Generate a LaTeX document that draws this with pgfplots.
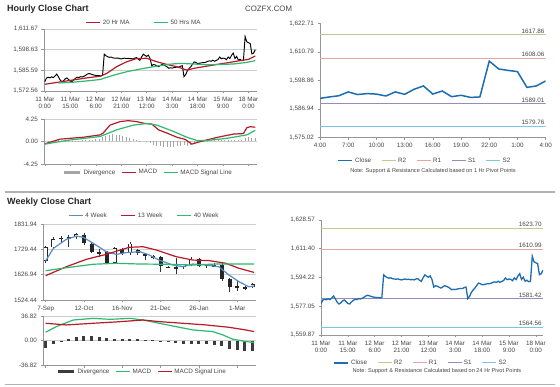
\documentclass[border=0pt]{standalone}
\usepackage{pgfplots}
\pgfplotsset{compat=1.18}
\usepackage{pgfplotstable}
\usepackage{fontspec}
\setmainfont{Liberation Sans}

\definecolor{closeblue}{RGB}{30,108,178}
\definecolor{rtwo}{RGB}{200,200,140}
\definecolor{rone}{RGB}{228,165,165}
\definecolor{sone}{RGB}{150,140,185}
\definecolor{stwo}{RGB}{120,200,225}
\definecolor{mared}{RGB}{185,25,40}
\definecolor{magreen}{RGB}{45,185,110}
\definecolor{wkblue}{RGB}{90,140,200}
\definecolor{gridgray}{RGB}{205,205,205}
\definecolor{axgray}{RGB}{150,150,150}
\definecolor{txt}{RGB}{70,70,70}
\definecolor{divgray}{RGB}{165,165,165}
\definecolor{divdark}{RGB}{60,60,60}

% hourly close (trading-hour index, 11 Mar 0:00 = 0)
\pgfplotstableread{
h c
0 1578.5
1 1580.8
2 1581.2
3 1580.9
4 1581.5
5 1581.0
6 1582.0
7 1583.2
8 1581.5
9 1579.5
10 1578.4
11 1579.0
12 1580.2
13 1580.8
14 1579.8
15 1578.7
16 1578.4
17 1579.6
18 1580.5
19 1581.3
20 1581.0
21 1581.6
22 1581.4
23 1581.8
24 1582.4
25 1583.2
26 1583.6
27 1583.3
28 1582.9
29 1582.6
30 1582.4
31 1582.2
32 1582.3
33 1582.0
34 1582.4
35 1595.8
36 1594.8
37 1594.2
38 1593.8
39 1594.0
40 1593.5
41 1593.3
42 1593.2
43 1593.4
44 1593.0
45 1592.8
46 1593.1
47 1593.3
48 1593.0
49 1593.2
50 1592.9
51 1593.0
52 1592.8
53 1593.3
54 1593.6
55 1592.6
56 1591.9
57 1594.0
58 1595.8
59 1595.0
60 1594.4
61 1595.2
62 1593.0
63 1588.5
64 1589.3
65 1589.0
66 1588.4
67 1587.9
68 1588.6
69 1589.3
70 1589.0
71 1588.5
72 1587.8
73 1586.9
74 1587.2
75 1587.0
76 1587.3
77 1587.5
78 1587.7
79 1587.6
80 1588.2
81 1588.5
82 1581.6
83 1583.0
84 1585.4
85 1586.8
86 1587.9
87 1589.5
88 1590.9
89 1590.5
90 1589.9
91 1590.0
92 1590.3
93 1590.5
94 1590.5
95 1590.8
96 1591.3
97 1591.6
98 1591.3
99 1592.0
100 1591.3
101 1591.9
102 1592.4
103 1594.0
104 1592.9
105 1593.3
106 1593.1
107 1592.3
108 1594.0
109 1593.0
110 1595.1
111 1596.5
112 1593.1
113 1594.4
114 1592.0
115 1592.6
116 1591.7
117 1591.9
118 1606.9
119 1603.6
120 1603.0
121 1602.5
122 1595.9
123 1596.5
124 1598.6
}\hourly

\pgfplotstableread{
h v
0 1576.8
12.8 1578.9
24.6 1580.8
32.5 1581.9
36.4 1583.6
42.3 1587.9
48.2 1591.0
54 1593.0
60 1593.2
66 1591.0
71.9 1589.3
77.8 1587.9
83.7 1585.7
87.6 1586.8
93.5 1587.9
101.4 1589.3
109 1590.6
115 1591.7
120 1592.5
124 1594.7
}\matwenty

\pgfplotstableread{
h v
7.9 1577.6
16.7 1578.1
24.6 1578.9
32.5 1579.8
40.4 1582.5
48.2 1584.7
56.1 1586.4
64 1587.9
71.9 1589.3
79.7 1590.0
87.6 1589.6
95.5 1589.1
103.3 1589.3
111.2 1589.6
119 1590.6
124 1591.7
}\mafifty

\pgfplotstableread{
h v
0 -0.44
8.9 0.44
22.6 0.8
32.5 1.25
34.4 1.6
38.4 3.1
44.3 3.75
49.2 3.94
54.1 3.75
59 3.4
63 3.3
67 2.2
71.9 1.6
77.8 0.8
82.7 0.4
86.6 -0.5
89.6 -0.2
95.5 0.3
103.3 0.9
111.2 1.4
117 1.5
119 2.6
121 2.8
124 2.7
}\hmacd

\pgfplotstableread{
h v
0 -0.5
12.8 0.2
32.5 0.94
42.3 2.2
52.2 3.1
60 3.4
66 3.1
75.8 1.9
83.7 0.8
89.6 0.2
95.5 0.2
107.3 0.6
119 1.25
124 2.1
}\hsignal

\pgfplotstableread{
h v
0 0
2 0.05
4 0.1
6 0.15
8 0.2
10 0.15
12 0.1
14 0.05
16 0.05
18 0.1
20 0.15
22 0.2
24 0.25
26 0.3
28 0.35
30 0.4
32 0.5
34 0.8
36 1.1
38 1.3
40 1.4
42 1.3
44 1.2
46 1.0
48 0.8
50 0.6
52 0.4
54 0.25
56 0.1
58 0
60 -0.1
62 -0.3
64 -0.6
66 -0.8
68 -0.9
70 -1.0
72 -1.1
74 -1.1
76 -1.0
78 -0.9
80 -0.8
82 -0.7
84 -0.8
86 -0.6
88 -0.3
90 -0.1
92 0.05
94 0.1
96 0.15
98 0.2
100 0.25
102 0.3
104 0.3
106 0.35
108 0.35
110 0.3
112 0.3
114 0.25
116 0.2
118 0.6
120 0.8
122 0.7
124 0.6
}\hdiv

% weekly candles: week open high low close
\pgfplotstableread{
w o h l c
0 1684 1742 1676 1737
1 1737 1778 1730 1772
2 1772 1784 1754 1775
3 1775 1788 1738 1778
4 1778 1795 1770 1791
5 1787 1795 1748 1756
6 1751 1758 1716 1720
7 1720 1730 1700 1709
8 1720 1724 1672 1675
9 1673 1738 1670 1733
10 1729 1736 1708 1713
11 1713 1758 1705 1753
12 1726 1731 1708 1713
13 1712 1716 1686 1702
14 1703 1708 1690 1697
15 1698 1703 1636 1660
16 1657 1660 1652 1655
17 1656 1693 1628 1654
18 1657 1672 1648 1668
19 1666 1700 1660 1688
20 1689 1693 1658 1660
21 1663 1672 1655 1666
22 1665 1674 1658 1662
23 1668 1679 1600 1610
24 1611 1615 1556 1577
25 1580 1604 1562 1573
26 1572 1581 1565 1576
27 1577 1594 1572 1589
}\weekly

\pgfplotstableread{
w v
0 1683
1.0 1733
2.7 1770
4.0 1783
4.9 1778
6.2 1754
7.9 1720
9.2 1709
10.5 1716
12.3 1720
13.5 1707
14.8 1686
16.6 1666
17.9 1659
19.2 1670
20.9 1666
22.6 1659
23.9 1626
25.2 1599
26.5 1578
27.2 1581
}\wkfour

\pgfplotstableread{
w v
0 1623
2.7 1659
5.3 1689
7.9 1709
10.9 1737.5
12.7 1740
14.4 1727
17 1700
19.2 1686
21.3 1684
23.5 1673
25.2 1653
27.2 1636
}\wkthirteen

\pgfplotstableread{
w v
0 1643
2.7 1655
6.2 1669
9.2 1673
12.3 1670
15.7 1669
19.2 1666
22.2 1670
24.4 1670
27.2 1670
}\wkforty

\pgfplotstableread{
w v
0 12.4
1.4 20.9
3.6 30.8
6.2 33.3
8.4 31.8
11 33.3
12.7 30.8
14.8 25.9
17 20.9
19.2 15.9
21.8 13.4
23.1 8.5
24.4 2
26.1 -1.5
27.2 -3
}\wmacd

\pgfplotstableread{
w v
0 25.9
2.7 23.4
6.2 25.9
9.2 27.9
12.7 30.8
14.8 28.4
17.9 25.9
20.9 23.4
23.9 19.9
26.1 15.9
27.2 13.4
}\wsignal

\pgfplotstableread{
w v
0 -11.4
1 -5
2 -1
3 2
4 5
5 7
6 7
7 5
8 4
9 3
10 2
11 3
12 2
13 1
14 0.5
15 -1
16 -3
17 -4
18 -5
19 -5
20 -6
21 -6
22 -7
23 -9
24 -12.5
25 -14
26 -16.5
27 -16.5
}\wdiv

\pgfplotsset{
  panel/.style={
    scale only axis, anchor=north west,
    axis x line*=bottom, axis y line*=left,
    axis line style={axgray, line width=0.6pt, -},
    tick style={axgray, line width=0.5pt},
    major tick length=2.5pt, tick align=outside,
    tick label style={font=\fontsize{6.3}{7.3}\selectfont, text=txt},
    xticklabel style={align=center},
    legend style={draw=none, fill=none, font=\fontsize{6.3}{7}\selectfont, text=txt,
      legend columns=-1, anchor=center, inner sep=0pt,
      /tikz/every even column/.append style={column sep=8pt}},
    legend image code/.code={\draw (0pt,0pt) -- (14pt,0pt);},
  },
  lgrid/.style={ymajorgrids, grid style={gridgray, line width=0.5pt}},
}

\begin{document}
\begin{tikzpicture}
\fill[white] (0,0) rectangle (560pt,386pt);
\useasboundingbox (0,0) rectangle (560pt,386pt);

% titles and separators
\node[anchor=west, inner sep=0pt, font=\fontsize{9}{10}\selectfont\bfseries, text=black!85] at (7pt,377pt) {Hourly Close Chart};
\node[anchor=west, inner sep=0pt, font=\fontsize{7.8}{9}\selectfont, text=txt] at (245pt,377pt) {COZFX.COM};
\node[anchor=west, inner sep=0pt, font=\fontsize{9}{10}\selectfont\bfseries, text=black!85] at (7pt,184pt) {Weekly Close Chart};
\draw[gray!60, line width=1.2pt] (5pt,194pt) -- (555pt,194pt);
\draw[gray!60, line width=1.2pt] (5pt,1.7pt) -- (555pt,1.7pt);
\node[font=\fontsize{5.6}{6.5}\selectfont, text=txt] at (433pt,215.3pt) {Note: Support \& Resistance Calculated based on 1 Hr Pivot Points};
\node[font=\fontsize{5.6}{6.5}\selectfont, text=txt] at (437pt,15pt) {Note: Support \& Resistance Calculated based on 24 Hr Pivot Points};

% ---------- Hourly close chart ----------
\begin{axis}[panel, lgrid, at={(44pt,357pt)}, width=213pt, height=62pt,
  xmin=-0.5, xmax=125, ymin=1572.56, ymax=1611.67,
  ytick={1572.56,1585.59,1598.63,1611.67},
  yticklabels={{1,572.56},{1,585.59},{1,598.63},{1,611.67}},
  xtick={0,15,...,120},
  xticklabels={{11 Mar\\0:00},{11 Mar\\15:00},{12 Mar\\6:00},{12 Mar\\21:00},{13 Mar\\12:00},{14 Mar\\3:00},{14 Mar\\18:00},{15 Mar\\9:00},{18 Mar\\0:00}},
  legend style={at={(0.47,1.1)}, /tikz/every even column/.append style={column sep=22pt}}]
\addplot[black, line width=0.95pt, forget plot] table[x=h, y=c] {\hourly};
\addplot[mared, line width=1.2pt] table[x=h, y=v] {\matwenty};
\addlegendentry{20 Hr MA}
\addplot[magreen, line width=1.2pt] table[x=h, y=v] {\mafifty};
\addlegendentry{50 Hrs MA}
\end{axis}

% ---------- Hourly MACD ----------
\begin{axis}[panel, lgrid, at={(44pt,267pt)}, width=213pt, height=45pt,
  xmin=-0.5, xmax=125, ymin=-4.25, ymax=4.25,
  ytick={-4.25,0,4.25}, yticklabels={-4.25,0.00,4.25},
  xtick={0,15,...,120}, xticklabels={},
  legend style={at={(0.49,-0.19)}, /tikz/every even column/.append style={column sep=4pt}}]
\addplot[ycomb, divgray, line width=0.9pt,
  legend image code/.code={\draw[line width=2.6pt] (0pt,0pt) -- (16pt,0pt);}] table[x=h, y=v] {\hdiv};
\addlegendentry{Divergence}
\addplot[mared, line width=1.2pt] table[x=h, y=v] {\hmacd};
\addlegendentry{MACD}
\addplot[magreen, line width=1.2pt] table[x=h, y=v] {\hsignal};
\addlegendentry{MACD Signal Line}
\end{axis}

% ---------- Hourly pivot chart (last 24 h) ----------
\begin{axis}[panel, at={(320pt,362.7pt)}, width=225.7pt, height=114pt,
  xmin=100, xmax=124, ymin=1575.02, ymax=1622.71,
  ytick={1575.02,1586.94,1598.86,1610.79,1622.71},
  yticklabels={{1,575.02},{1,586.94},{1,598.86},{1,610.79},{1,622.71}},
  xtick={100,103,...,124},
  xticklabels={4:00,7:00,10:00,13:00,16:00,19:00,22:00,1:00,4:00},
  legend style={at={(0.465,-0.205)}}]
\addlegendimage{closeblue, line width=1.5pt}\addlegendentry{Close}
\addlegendimage{rtwo, line width=0.9pt}\addlegendentry{R2}
\addlegendimage{rone, line width=0.9pt}\addlegendentry{R1}
\addlegendimage{sone, line width=0.9pt}\addlegendentry{S1}
\addlegendimage{stwo, line width=0.9pt}\addlegendentry{S2}
\addplot[rtwo, line width=0.9pt, forget plot] coordinates {(100,1617.86) (124,1617.86)};
\addplot[rone, line width=0.9pt, forget plot] coordinates {(100,1608.06) (124,1608.06)};
\addplot[sone, line width=0.9pt, forget plot] coordinates {(100,1589.01) (124,1589.01)};
\addplot[stwo, line width=0.9pt, forget plot] coordinates {(100,1579.76) (124,1579.76)};
\addplot[closeblue, line width=1.5pt, forget plot, restrict x to domain=100:124] table[x=h, y=c] {\hourly};
\node[anchor=south east, inner sep=1.2pt, font=\fontsize{6.3}{7}\selectfont, text=txt] at (axis cs:124,1617.86) {1617.86};
\node[anchor=south east, inner sep=1.2pt, font=\fontsize{6.3}{7}\selectfont, text=txt] at (axis cs:124,1608.06) {1608.06};
\node[anchor=south east, inner sep=1.2pt, font=\fontsize{6.3}{7}\selectfont, text=txt] at (axis cs:124,1589.01) {1589.01};
\node[anchor=south east, inner sep=1.2pt, font=\fontsize{6.3}{7}\selectfont, text=txt] at (axis cs:124,1579.76) {1579.76};
\end{axis}

% ---------- Weekly candle chart ----------
\begin{axis}[panel, lgrid, at={(43pt,162pt)}, width=213pt, height=76pt,
  xmin=-0.35, xmax=27.45, ymin=1524.44, ymax=1831.94,
  ytick={1524.44,1626.94,1729.44,1831.94},
  yticklabels={1524.44,1626.94,1729.44,1831.94},
  xtick={0,5,...,25},
  xticklabels={7-Sep,12-Oct,16-Nov,21-Dec,26-Jan,1-Mar},
  legend style={at={(0.476,1.11)}, /tikz/every even column/.append style={column sep=12pt}}]
% wicks
\addplot[draw=none, mark=none, forget plot,
  error bars/.cd, y dir=both, y explicit, error mark=none,
  error bar style={draw=black!80, line width=0.6pt, solid}]
  table[x=w, y expr={(\thisrow{h}+\thisrow{l})/2}, y error expr={(\thisrow{h}-\thisrow{l})/2}] {\weekly};
% bodies
\addplot[draw=none, mark=none, forget plot,
  error bars/.cd, y dir=both, y explicit, error mark=none,
  error bar style={draw=black!85, line width=4pt, solid}]
  table[x=w, y expr={(\thisrow{o}+\thisrow{c})/2}, y error expr={max(abs(\thisrow{c}-\thisrow{o})/2,1.6)}] {\weekly};
% hollow (up) bodies
\addplot[draw=none, mark=none, forget plot,
  error bars/.cd, y dir=both, y explicit, error mark=none,
  error bar style={draw=white, line width=2.5pt, solid}]
  table[x=w, y expr={(\thisrow{o}+\thisrow{c})/2}, y error expr={max((\thisrow{c}-\thisrow{o})/2-3.2,0)}] {\weekly};
\addplot[wkblue, line width=1.2pt] table[x=w, y=v] {\wkfour};
\addlegendentry{4 Week}
\addplot[mared, line width=1.2pt] table[x=w, y=v] {\wkthirteen};
\addlegendentry{13 Week}
\addplot[magreen, line width=1.2pt] table[x=w, y=v] {\wkforty};
\addlegendentry{40 Week}
\end{axis}

% ---------- Weekly MACD ----------
\begin{axis}[panel, lgrid, at={(43pt,70pt)}, width=213pt, height=49pt,
  xmin=-0.35, xmax=27.45, ymin=-36.82, ymax=36.82,
  ytick={-36.82,0,36.82}, yticklabels={-36.82,0.00,36.82},
  xtick={0,5,...,25}, xticklabels={},
  legend style={at={(0.467,-0.137)}, /tikz/every even column/.append style={column sep=4pt}}]
\addplot[ycomb, divdark, line width=3pt,
  legend image code/.code={\draw[line width=2.6pt] (0pt,0pt) -- (16pt,0pt);}] table[x=w, y=v] {\wdiv};
\addlegendentry{Divergence}
\addplot[magreen, line width=1.2pt] table[x=w, y=v] {\wmacd};
\addlegendentry{MACD}
\addplot[mared, line width=1.2pt] table[x=w, y=v] {\wsignal};
\addlegendentry{MACD Signal Line}
\end{axis}

% ---------- Hourly close with 24h pivots ----------
\begin{axis}[panel, at={(321pt,166pt)}, width=222pt, height=115pt,
  xmin=0, xmax=124, ymin=1559.87, ymax=1628.57,
  ytick={1559.87,1577.05,1594.22,1611.40,1628.57},
  yticklabels={{1,559.87},{1,577.05},{1,594.22},{1,611.40},{1,628.57}},
  xtick={0,15,...,120},
  xticklabels={{11 Mar\\0:00},{11 Mar\\15:00},{12 Mar\\6:00},{12 Mar\\21:00},{13 Mar\\12:00},{14 Mar\\3:00},{14 Mar\\18:00},{15 Mar\\9:00},{18 Mar\\0:00}},
  legend style={at={(0.45,-0.243)}}]
\addlegendimage{closeblue, line width=1.5pt}\addlegendentry{Close}
\addlegendimage{rtwo, line width=0.9pt}\addlegendentry{R2}
\addlegendimage{rone, line width=0.9pt}\addlegendentry{R1}
\addlegendimage{sone, line width=0.9pt}\addlegendentry{S1}
\addlegendimage{stwo, line width=0.9pt}\addlegendentry{S2}
\addplot[rtwo, line width=0.9pt, forget plot] coordinates {(0,1623.70) (124,1623.70)};
\addplot[rone, line width=0.9pt, forget plot] coordinates {(0,1610.99) (124,1610.99)};
\addplot[sone, line width=0.9pt, forget plot] coordinates {(0,1581.42) (124,1581.42)};
\addplot[stwo, line width=0.9pt, forget plot] coordinates {(0,1564.56) (124,1564.56)};
\addplot[closeblue, line width=1.3pt, forget plot] table[x=h, y=c] {\hourly};
\node[anchor=south east, inner sep=1.2pt, font=\fontsize{6.3}{7}\selectfont, text=txt] at (axis cs:124,1623.70) {1623.70};
\node[anchor=south east, inner sep=1.2pt, font=\fontsize{6.3}{7}\selectfont, text=txt] at (axis cs:124,1610.99) {1610.99};
\node[anchor=south east, inner sep=1.2pt, font=\fontsize{6.3}{7}\selectfont, text=txt] at (axis cs:124,1581.42) {1581.42};
\node[anchor=south east, inner sep=1.2pt, font=\fontsize{6.3}{7}\selectfont, text=txt] at (axis cs:124,1564.56) {1564.56};
\end{axis}
\end{tikzpicture}
\end{document}
